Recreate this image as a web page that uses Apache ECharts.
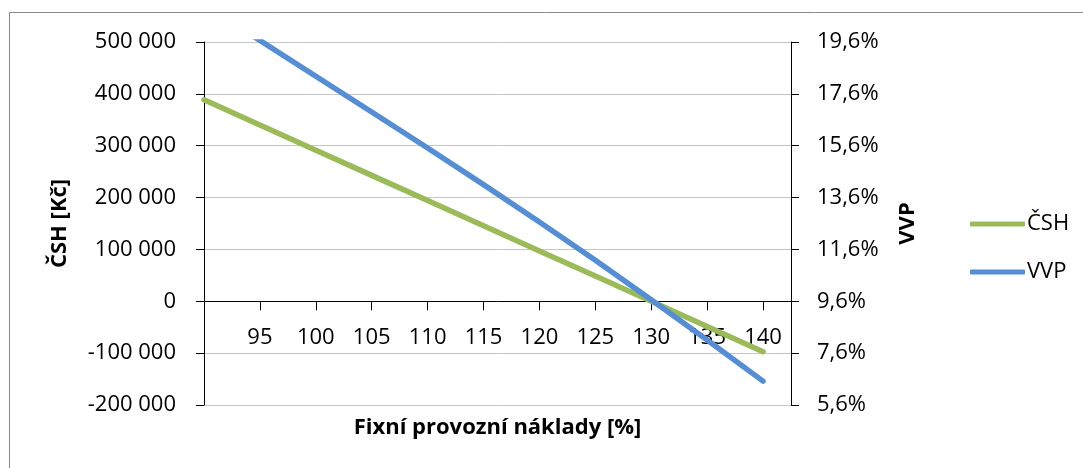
<!DOCTYPE html>
<html>
<head>
<meta charset="utf-8">
<script src="https://cdn.jsdelivr.net/npm/echarts@6/dist/echarts.min.js"></script>
<style>
  html, body { margin: 0; padding: 0; background: #fff; }
  #chart { width: 1083px; height: 468px; }
</style>
</head>
<body>
<div id="chart"></div>
<script>
// Fixed operating costs (% of base) on the horizontal axis
const costLevels = [90, 95, 100, 105, 110, 115, 120, 125, 130, 135, 140];
// Net present value ČSH in Kč
const npvValues = [388600, 340000, 291400, 242800, 194300, 145700, 97100, 48600, 0, -48600, -97200];
// Internal rate of return VVP in %
const irrValues = [21.02, 19.66, 18.28, 16.9, 15.51, 14.1, 12.66, 11.18, 9.66, 8.11, 6.52];

// Tick positions
const costTicks = [90, 95, 100, 105, 110, 115, 120, 125, 130, 135, 140];
const costLabels = [95, 100, 105, 110, 115, 120, 125, 130, 135, 140];
const irrTicks = [5.6, 7.6, 9.6, 11.6, 13.6, 15.6, 17.6, 19.6];

const FONT = '"Open Sans", "Noto Sans", sans-serif';

function formatKc(v) {
  const s = Math.abs(v).toString().replace(/\B(?=(\d{3})+(?!\d))/g, ' ');
  return (v < 0 ? '-' : '') + s;
}
function formatPct(v) {
  return v.toFixed(1).replace('.', ',') + '%';
}

const GRID_TOP = 42, GRID_H = 363;
// the cost axis sits on the zero line of the ČSH axis (-200 000 … 500 000)
const zeroShift = GRID_H * 2 / 7;

const chart = echarts.init(document.getElementById('chart'), null, { renderer: 'canvas' });

const axisLineStyle = { color: '#000', width: 1 };
const labelStyle = { color: '#000', fontFamily: FONT, fontSize: 22 };
const nameStyle = { color: '#000', fontFamily: FONT, fontSize: 22, fontWeight: 'bold' };

chart.setOption({
  animation: false,
  backgroundColor: '#fff',
  graphic: [{
    type: 'rect',
    shape: { x: 9.5, y: 12.5, width: 1200, height: 600 },
    style: { fill: 'none', stroke: '#8a8a8a', lineWidth: 1 },
    silent: true
  }],
  grid: { left: 204, top: GRID_TOP, width: 587, height: GRID_H, outerBoundsMode: 'none', containLabel: false },
  legend: {
    orient: 'vertical',
    left: 965,
    top: 208,
    itemGap: 26,
    itemWidth: 55,
    itemHeight: 5,
    icon: 'roundRect',
    textStyle: { color: '#000', fontFamily: FONT, fontSize: 22, padding: [0, 0, 0, -3] },
    data: ['ČSH', 'VVP']
  },
  xAxis: {
    type: 'value',
    min: 90,
    max: 142.5,
    position: 'bottom',
    offset: -zeroShift,
    name: 'Fixní provozní náklady [%]',
    nameLocation: 'middle',
    nameGap: 115,
    nameTextStyle: nameStyle,
    axisLine: { show: true, onZero: false, lineStyle: axisLineStyle },
    axisTick: { show: true, length: 9, lineStyle: axisLineStyle, customValues: costTicks },
    axisLabel: Object.assign({ margin: 25, customValues: costLabels }, labelStyle),
    splitLine: { show: false }
  },
  yAxis: [{
    type: 'value',
    position: 'left',
    min: -200000,
    max: 500000,
    interval: 100000,
    name: 'ČSH [Kč]',
    nameLocation: 'middle',
    nameRotate: 90,
    nameGap: 133,
    nameTextStyle: nameStyle,
    axisLine: { show: true, onZero: false, lineStyle: axisLineStyle },
    axisTick: { show: true, length: 8, lineStyle: axisLineStyle },
    axisLabel: Object.assign({ margin: 28, formatter: formatKc }, labelStyle),
    splitLine: { show: true, lineStyle: { color: '#c6c6c6', width: 1 } }
  }, {
    type: 'value',
    position: 'right',
    min: 5.6,
    max: 19.6,
    name: 'VVP',
    nameLocation: 'middle',
    nameRotate: 90,
    nameGap: 106,
    nameTextStyle: nameStyle,
    axisLine: { show: true, onZero: false, lineStyle: axisLineStyle },
    axisTick: { show: true, length: 8, lineStyle: axisLineStyle, customValues: irrTicks },
    axisLabel: Object.assign({ margin: 26, customValues: irrTicks, formatter: formatPct }, labelStyle),
    splitLine: { show: false }
  }],
  series: [{
    name: 'ČSH',
    type: 'line',
    yAxisIndex: 0,
    data: costLevels.map((x, i) => [x, npvValues[i]]),
    symbol: 'none',
    color: '#9bbb59',
    lineStyle: { width: 5.5, cap: 'round', join: 'round' }
  }, {
    name: 'VVP',
    type: 'line',
    yAxisIndex: 1,
    data: costLevels.map((x, i) => [x, irrValues[i]]),
    symbol: 'none',
    color: '#558ed5',
    lineStyle: { width: 5.5, cap: 'round', join: 'round' }
  }]
});
</script>
</body>
</html>
